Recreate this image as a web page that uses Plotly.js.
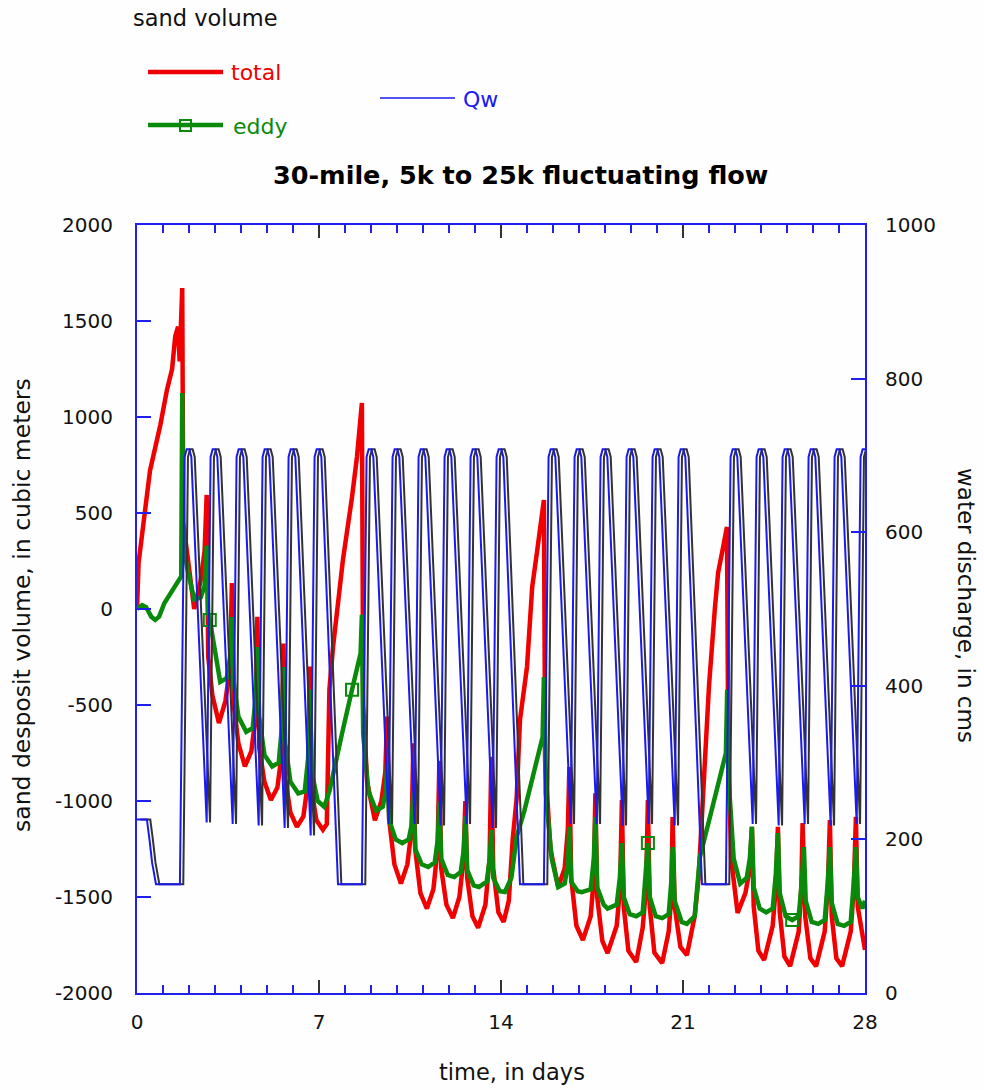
<!DOCTYPE html>
<html>
<head>
<meta charset="utf-8">
<script src="https://cdn.plot.ly/plotly-3.0.1.min.js"></script>
<style>
  html, body { margin: 0; padding: 0; background: #fefefe; }
  #chart { width: 984px; height: 1090px; }
</style>
</head>
<body>
<div id="chart"></div>
<script>
// ---------- water discharge (cms) ----------
const qwDays = [0,0.38,0.48,0.58,0.73,1.65,
  1.83,1.91,2.01,2.09,2.68,
  2.83,2.91,3.01,3.09,3.68,
  3.83,3.91,4.01,4.09,4.68,
  4.83,4.91,5.01,5.09,5.68,
  5.83,5.91,6.01,6.09,6.68,
  6.83,6.91,7.01,7.09,7.73,8.65,
  8.83,8.91,9.01,9.09,9.68,
  9.83,9.91,10.01,10.09,10.68,
  10.83,10.91,11.01,11.09,11.68,
  11.83,11.91,12.01,12.09,12.68,
  12.83,12.91,13.01,13.09,13.68,
  13.83,13.91,14.01,14.09,14.73,15.65,
  15.83,15.91,16.01,16.09,16.68,
  16.83,16.91,17.01,17.09,17.68,
  17.83,17.91,18.01,18.09,18.68,
  18.83,18.91,19.01,19.09,19.68,
  19.83,19.91,20.01,20.09,20.68,
  20.83,20.91,21.01,21.09,21.73,22.65,
  22.83,22.91,23.01,23.09,23.68,
  23.83,23.91,24.01,24.09,24.68,
  24.83,24.91,25.01,25.09,25.68,
  25.83,25.91,26.01,26.09,26.68,
  26.83,26.91,27.01,27.09,27.68,
  27.83,27.91,28];
const qwCms = [226,226,200,170,141.6,141.6,
  698,708,708,698,222,
  698,708,708,698,220,
  698,708,708,698,218,
  698,708,708,698,215,
  698,708,708,698,205,
  698,708,708,698,141.6,141.6,
  698,708,708,698,220,
  698,708,708,698,220,
  698,708,708,698,218,
  698,708,708,698,220,
  698,708,708,698,215,
  698,708,708,698,141.6,141.6,
  698,708,708,698,220,
  698,708,708,698,220,
  698,708,708,698,218,
  698,708,708,698,220,
  698,708,708,698,218,
  698,708,708,698,141.6,141.6,
  698,708,708,698,220,
  698,708,708,698,218,
  698,708,708,698,220,
  698,708,708,698,218,
  698,708,708,698,220,
  698,708,708];
// the same hydrograph arriving downstream a little later
const qwDownstreamLagDays = 0.13;

// ---------- total sand deposit volume (m^3) ----------
const totalDays = [0,0.06,0.5,0.9,1.15,1.35,1.47,1.58,1.64,1.74,
  1.78,1.95,2.2,2.45,2.6,2.68,
  2.74,2.9,3.15,3.4,3.58,3.65,
  3.72,3.9,4.15,4.4,4.56,4.63,
  4.7,4.9,5.15,5.4,5.56,5.63,
  5.7,5.9,6.15,6.4,6.58,6.65,
  6.72,6.9,7.15,7.3,7.4,7.54,7.92,8.27,8.46,8.65,
  8.7,8.85,9.15,9.4,9.55,9.62,
  9.7,9.9,10.15,10.4,10.56,10.63,
  10.7,10.9,11.15,11.4,11.56,11.63,
  11.7,11.9,12.15,12.4,12.56,12.63,
  12.7,12.9,13.12,13.4,13.56,13.63,
  13.7,13.9,14.1,14.3,14.45,14.6,14.73,15.0,15.2,15.38,15.58,15.65,
  15.7,15.9,16.2,16.45,16.57,16.63,
  16.7,16.9,17.15,17.45,17.57,17.63,
  17.7,17.9,18.1,18.45,18.58,18.65,
  18.72,18.9,19.2,19.45,19.58,19.65,
  19.72,19.9,20.2,20.45,20.55,20.6,
  20.68,20.9,21.15,21.45,21.6,21.7,21.85,22.0,22.23,22.35,22.5,22.69,
  22.74,22.85,23.1,23.4,23.57,23.65,
  23.72,23.9,24.12,24.45,24.57,24.65,
  24.72,24.9,25.12,25.45,25.55,25.6,
  25.7,25.9,26.12,26.45,26.57,26.65,
  26.72,26.9,27.12,27.45,27.57,27.65,
  27.72,27.9,28];
const totalVol = [0,240,720,960,1140,1250,1420,1470,1290,1672,
  450,250,0,150,300,594,
  -250,-450,-594,-480,-300,135,
  -500,-700,-820,-740,-560,-40,
  -720,-900,-995,-930,-760,-180,
  -880,-1060,-1135,-1080,-900,-300,
  -950,-1100,-1150,-1120,-420,-198,255,583,792,1073,
  -500,-900,-1100,-1000,-850,-560,
  -1100,-1330,-1430,-1330,-1150,-700,
  -1250,-1480,-1560,-1460,-1250,-790,
  -1350,-1540,-1610,-1500,-1300,-1000,
  -1400,-1600,-1660,-1540,-1300,-770,
  -1350,-1580,-1630,-1520,-1200,-990,-578,-302,115,292,479,568,
  -800,-1250,-1448,-1350,-1150,-823,
  -1400,-1650,-1724,-1600,-1400,-960,
  -1500,-1730,-1792,-1650,-1450,-995,
  -1550,-1780,-1839,-1660,-1450,-995,
  -1550,-1790,-1844,-1680,-1500,-1083,
  -1550,-1760,-1802,-1600,-1400,-1150,-800,-400,10,188,292,427,
  -700,-1300,-1583,-1480,-1350,-1135,
  -1550,-1780,-1828,-1650,-1450,-1135,
  -1580,-1810,-1860,-1680,-1450,-1115,
  -1600,-1820,-1860,-1680,-1450,-1099,
  -1600,-1820,-1860,-1680,-1450,-1083,
  -1550,-1720,-1776];

// ---------- eddy sand deposit volume (m^3) ----------
const eddyDays = [0,0.2,0.35,0.55,0.7,0.85,1.05,1.25,1.45,1.62,1.7,1.74,
  1.78,1.95,2.2,2.45,2.6,2.68,
  2.74,2.8,3.2,3.45,3.58,3.65,
  3.72,3.9,4.2,4.45,4.57,4.63,
  4.7,4.9,5.2,5.45,5.57,5.63,
  5.7,5.9,6.2,6.45,6.58,6.65,
  6.72,6.95,7.2,7.4,7.6,7.9,8.27,8.5,8.6,8.65,
  8.7,8.9,9.2,9.45,9.57,9.62,
  9.7,9.95,10.2,10.45,10.57,10.63,
  10.7,10.95,11.2,11.45,11.57,11.63,
  11.7,11.95,12.2,12.45,12.57,12.63,
  12.7,12.95,13.15,13.45,13.57,13.63,
  13.7,13.95,14.15,14.4,14.6,14.9,15.2,15.4,15.6,15.65,
  15.72,15.95,16.2,16.45,16.57,16.63,
  16.7,16.95,17.1,17.45,17.57,17.63,
  17.7,17.95,18.1,18.45,18.57,18.65,
  18.72,18.95,19.2,19.45,19.57,19.65,
  19.72,19.95,20.2,20.45,20.55,20.6,
  20.68,20.95,21.15,21.45,21.65,21.9,22.2,22.45,22.65,22.7,
  22.76,22.95,23.2,23.45,23.57,23.65,
  23.72,23.95,24.2,24.45,24.57,24.65,
  24.72,24.95,25.2,25.45,25.57,25.65,
  25.72,25.95,26.2,26.45,26.57,26.65,
  26.72,26.95,27.2,27.45,27.57,27.65,
  27.72,27.9,28];
const eddyVol = [0,20,10,-40,-57,-40,30,70,110,150,170,1125,
  330,200,50,60,120,330,
  -20,-57,-380,-360,-250,-42,
  -380,-560,-640,-620,-450,-198,
  -560,-760,-820,-800,-620,-302,
  -700,-900,-960,-950,-780,-420,
  -850,-1000,-1030,-950,-820,-640,-420,-280,-230,-30,
  -650,-950,-1050,-1030,-950,-800,
  -1100,-1200,-1219,-1200,-1120,-950,
  -1250,-1330,-1344,-1320,-1200,-1000,
  -1300,-1385,-1396,-1370,-1250,-1080,
  -1360,-1440,-1448,-1420,-1300,-1150,
  -1400,-1470,-1474,-1400,-1187,-1050,-880,-780,-667,-354,
  -958,-1300,-1448,-1430,-1330,-1135,
  -1420,-1470,-1475,-1460,-1300,-1083,
  -1450,-1540,-1560,-1540,-1400,-1219,
  -1500,-1590,-1600,-1580,-1400,-1219,
  -1500,-1600,-1610,-1590,-1420,-1240,
  -1520,-1630,-1640,-1600,-1292,-1150,-980,-860,-750,-420,
  -900,-1300,-1430,-1400,-1300,-1135,
  -1450,-1560,-1580,-1560,-1380,-1167,
  -1480,-1600,-1620,-1600,-1420,-1240,
  -1520,-1630,-1640,-1620,-1420,-1240,
  -1530,-1640,-1650,-1630,-1420,-1240,
  -1500,-1560,-1520];
// symbol positions along the eddy curve
const eddyMarkDays = [2.8, 8.27, 19.65, 25.2];
const eddyMarkVol  = [-57, -420, -1219, -1620];

// ---------- axes ----------
const dayTicks = [0, 7, 14, 21, 28];
const volTicks = [-2000, -1500, -1000, -500, 0, 500, 1000, 1500, 2000];
const volTickText = ['-2000', '-1500', '-1000', '-500', '0', '500', '1000', '1500', '2000'];
const cmsTicks = [0, 200, 400, 600, 800, 1000];

const RED = '#f00000', GREEN = '#0a8a0a', BLUE = '#1a1aee', DARK = '#333333', AXIS = '#2020ee';
const FONT = 'DejaVu Sans, Verdana, sans-serif';

const traces = [
  { x: qwDays.map(d => d + qwDownstreamLagDays), y: qwCms, yaxis: 'y2', mode: 'lines',
    line: { color: DARK, width: 2 }, hoverinfo: 'skip' },
  { x: qwDays, y: qwCms, yaxis: 'y2', mode: 'lines', name: 'Qw',
    line: { color: BLUE, width: 2 } },
  { x: totalDays, y: totalVol, mode: 'lines', name: 'total',
    line: { color: RED, width: 4.5 } },
  { x: eddyDays, y: eddyVol, mode: 'lines', name: 'eddy',
    line: { color: GREEN, width: 4.5 } },
  { x: eddyMarkDays, y: eddyMarkVol, mode: 'markers', hoverinfo: 'skip',
    marker: { symbol: 'square-open', size: 12, color: GREEN, line: { width: 2, color: GREEN } } }
];

// pixel helpers for placing text around the frame (plot area 137..865 x 225..993)
const px = v => (v - 137) / 728;
const py = v => (993 - v) / 768;

const layout = {
  width: 984, height: 1090,
  margin: { l: 137, r: 119, t: 225, b: 97 },
  paper_bgcolor: '#fefefe', plot_bgcolor: '#fefefe',
  showlegend: false,
  font: { family: FONT, size: 20, color: '#111' },
  xaxis: {
    range: [0, 28], tickvals: dayTicks, ticks: 'inside', ticklen: 13, tickwidth: 2, tickcolor: DARK,
    showline: true, linecolor: AXIS, linewidth: 2, mirror: 'ticks', showgrid: false, zeroline: false,
    ticklabelstandoff: 10,
    minor: { dtick: 1, ticks: 'inside', ticklen: 8, tickwidth: 2, tickcolor: AXIS, showgrid: false }
  },
  yaxis: {
    range: [-2000, 2000], tickvals: volTicks, ticktext: volTickText, ticks: 'inside', ticklen: 14,
    tickwidth: 2, tickcolor: AXIS, showline: true, linecolor: AXIS, linewidth: 2,
    showgrid: false, zeroline: false, ticklabelstandoff: 18
  },
  yaxis2: {
    range: [0, 1000], tickvals: cmsTicks, overlaying: 'y', side: 'right', ticks: 'inside', ticklen: 14,
    tickwidth: 2, tickcolor: AXIS, showline: true, linecolor: AXIS, linewidth: 2,
    showgrid: false, zeroline: false, ticklabelstandoff: 14
  },
  shapes: [
    { type: 'line', xref: 'paper', yref: 'paper', x0: px(148), x1: px(223), y0: py(72), y1: py(72),
      line: { color: RED, width: 4.5 } },
    { type: 'line', xref: 'paper', yref: 'paper', x0: px(148), x1: px(223), y0: py(125), y1: py(125),
      line: { color: GREEN, width: 4.5 } },
    { type: 'rect', xref: 'paper', yref: 'paper', x0: px(180), x1: px(191), y0: py(131), y1: py(120),
      line: { color: GREEN, width: 2 } },
    { type: 'line', xref: 'paper', yref: 'paper', x0: px(380), x1: px(455), y0: py(98), y1: py(98),
      line: { color: BLUE, width: 1.5 } }
  ],
  annotations: [
    { text: 'sand volume', xref: 'paper', yref: 'paper', x: px(131), y: py(18),
      xanchor: 'left', yanchor: 'middle', showarrow: false, font: { size: 22.5, color: '#111' } },
    { text: 'total', xref: 'paper', yref: 'paper', x: px(229), y: py(73),
      xanchor: 'left', yanchor: 'middle', showarrow: false, font: { size: 22, color: RED } },
    { text: 'eddy', xref: 'paper', yref: 'paper', x: px(231), y: py(127),
      xanchor: 'left', yanchor: 'middle', showarrow: false, font: { size: 22, color: GREEN } },
    { text: 'Qw', xref: 'paper', yref: 'paper', x: px(461), y: py(100),
      xanchor: 'left', yanchor: 'middle', showarrow: false, font: { size: 22, color: BLUE } },
    { text: '<b>30-mile, 5k to 25k fluctuating flow</b>', xref: 'paper', yref: 'paper', x: px(520), y: py(175),
      xanchor: 'center', yanchor: 'middle', showarrow: false, font: { size: 25.5, color: '#000' } },
    { text: 'sand desposit volume, in cubic meters', xref: 'paper', yref: 'paper', x: px(22), y: py(605),
      xanchor: 'center', yanchor: 'middle', textangle: -90, showarrow: false, font: { size: 23.5, color: '#111' } },
    { text: 'water discharge, in cms', xref: 'paper', yref: 'paper', x: px(966), y: py(605),
      xanchor: 'center', yanchor: 'middle', textangle: 90, showarrow: false, font: { size: 23, color: '#111' } },
    { text: 'time, in days', xref: 'paper', yref: 'paper', x: px(512), y: py(1072),
      xanchor: 'center', yanchor: 'middle', showarrow: false, font: { size: 22.5, color: '#111' } }
  ]
};

Plotly.newPlot('chart', traces, layout, { displayModeBar: false, staticPlot: true });
</script>
</body>
</html>
